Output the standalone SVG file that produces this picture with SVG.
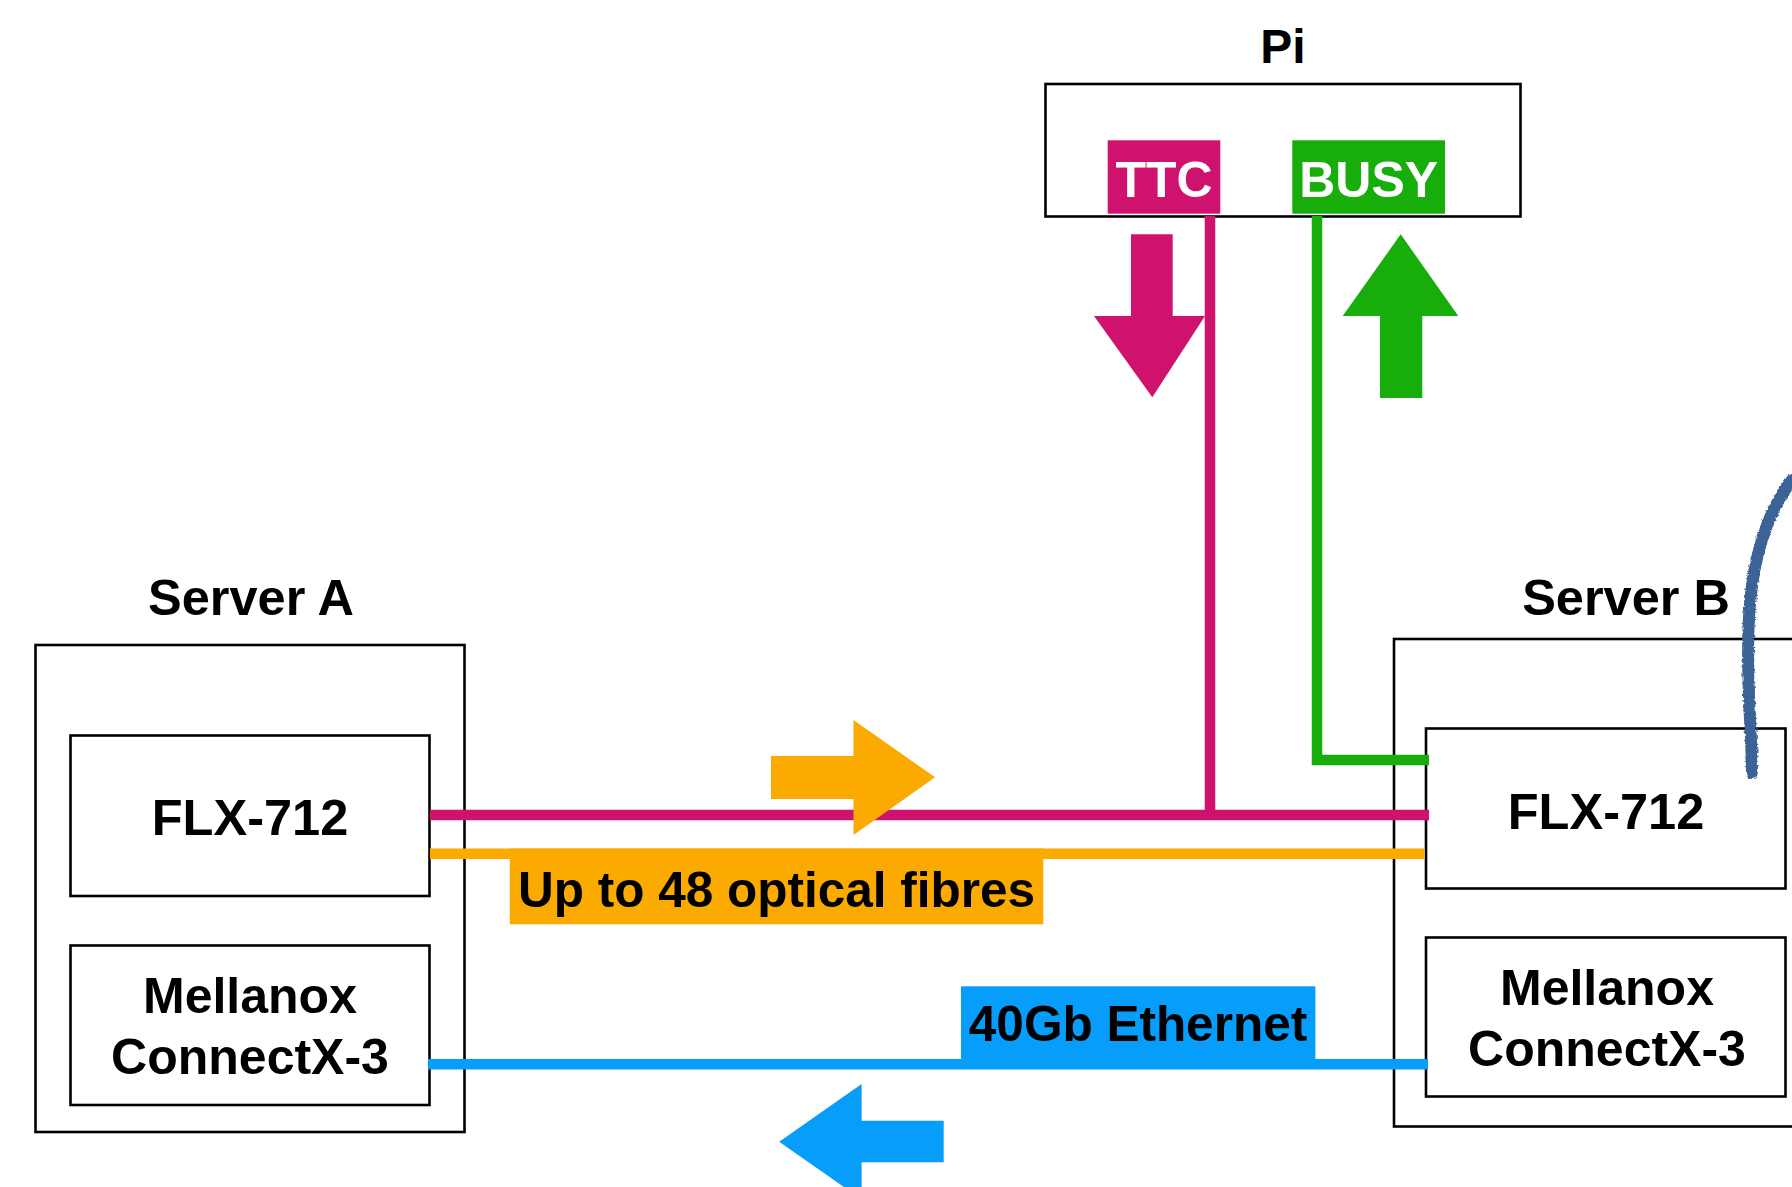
<svg xmlns="http://www.w3.org/2000/svg" width="1792" height="1187" viewBox="0 0 1792 1187">
<style>
.box{fill:#ffffff;stroke:#000000;stroke-width:2.6}
.t{font-family:"Liberation Sans",Arial,Helvetica,sans-serif;font-weight:bold;fill:#000000;text-anchor:middle}
.w{fill:#ffffff}
.ln{fill:none;stroke-width:10.5;stroke-linecap:butt;stroke-linejoin:miter}
.mag{stroke:#D0126F}
.grn{stroke:#17AD0A}
.org{stroke:#FBAB00}
.blu{stroke:#069DFB}
</style>
<defs>
  <filter id="rough" x="-20%" y="-5%" width="140%" height="110%">
    <feTurbulence type="fractalNoise" baseFrequency="0.35" numOctaves="2" seed="3" result="n"/>
    <feDisplacementMap in="SourceGraphic" in2="n" scale="4" xChannelSelector="R" yChannelSelector="G"/>
  </filter>
</defs>
<rect x="0" y="0" width="1792" height="1187" fill="#ffffff"/>

<g id="pi">
  <text class="t" x="1283" y="63" font-size="48">Pi</text>
  <rect class="box" x="1045.5" y="84" width="475" height="132.5"/>
</g>

<g id="serverA">
  <text class="t" x="251" y="614.5" font-size="50.5">Server A</text>
  <rect class="box" x="35.5" y="645" width="429" height="487"/>
</g>
<g id="flxA">
  <rect class="box" x="70.5" y="735.5" width="359" height="160.5"/>
  <text class="t" x="250" y="835" font-size="50.5">FLX-712</text>
</g>
<g id="mellanoxA">
  <rect class="box" x="70.5" y="945.5" width="359" height="159.5"/>
  <text class="t" x="250" y="1013" font-size="50">Mellanox</text>
  <text class="t" x="250" y="1074" font-size="50">ConnectX-3</text>
</g>

<g id="serverB">
  <text class="t" x="1626" y="614.5" font-size="50.5">Server B</text>
  <rect class="box" x="1394" y="639" width="420" height="487.5"/>
</g>
<g id="flxB">
  <rect class="box" x="1426" y="728.5" width="359.5" height="160"/>
  <text class="t" x="1606" y="828.5" font-size="50.5">FLX-712</text>
</g>
<g id="mellanoxB">
  <rect class="box" x="1426" y="937.5" width="359.5" height="159"/>
  <text class="t" x="1607" y="1004.5" font-size="50">Mellanox</text>
  <text class="t" x="1607" y="1066" font-size="50">ConnectX-3</text>
</g>

<g id="connectors">
  <polyline class="ln mag" points="1210,216 1210,815"/>
  <line class="ln mag" x1="430" y1="815" x2="1429" y2="815"/>
  <polyline class="ln grn" points="1317,216 1317,760 1429,760"/>
  <line class="ln org" x1="430" y1="853.8" x2="1424.5" y2="853.8"/>
  <line class="ln blu" x1="428" y1="1064.2" x2="1428" y2="1064.2"/>
</g>

<g id="ttc">
  <rect x="1107.7" y="140.3" width="112.6" height="73.4" fill="#D0126F"/>
  <text class="t w" x="1164" y="197" font-size="50">TTC</text>
</g>
<g id="busy">
  <rect x="1292.3" y="140.3" width="152.7" height="73.4" fill="#17AD0A"/>
  <text class="t w" x="1368.7" y="197" font-size="50">BUSY</text>
</g>

<g id="label-fibres">
  <rect x="509.8" y="848.5" width="533.5" height="75.8" fill="#FBAB00"/>
  <text class="t" x="776.5" y="906.7" font-size="49.5">Up to 48 optical fibres</text>
</g>
<g id="label-ethernet">
  <rect x="961" y="986.3" width="354.4" height="80" fill="#069DFB"/>
  <text class="t" x="1138" y="1040.7" font-size="49.5">40Gb Ethernet</text>
</g>

<g id="arrows">
  <polygon fill="#D0126F" points="1131,234.3 1172.7,234.3 1172.7,316 1205,316 1152.3,397.3 1094,316 1131,316"/>
  <polygon fill="#17AD0A" points="1400.7,234.3 1458.3,316 1422.3,316 1422.3,398 1380,398 1380,316 1342.7,316"/>
  <polygon fill="#FBAB00" points="771,756 853.5,756 853.5,720 935.1,777.3 853.5,835 853.5,799 771,799"/>
  <polygon fill="#069DFB" points="943.7,1120.7 861.6,1120.7 861.6,1084 779.2,1141.7 861.6,1199.4 861.6,1162.3 943.7,1162.3"/>
</g>

<path d="M 1792 480 C 1766 514, 1751 560, 1748.5 628 C 1746.5 690, 1752 735, 1752 773" fill="none" stroke="#3A6396" stroke-width="12" stroke-linecap="round" filter="url(#rough)"/>
</svg>
